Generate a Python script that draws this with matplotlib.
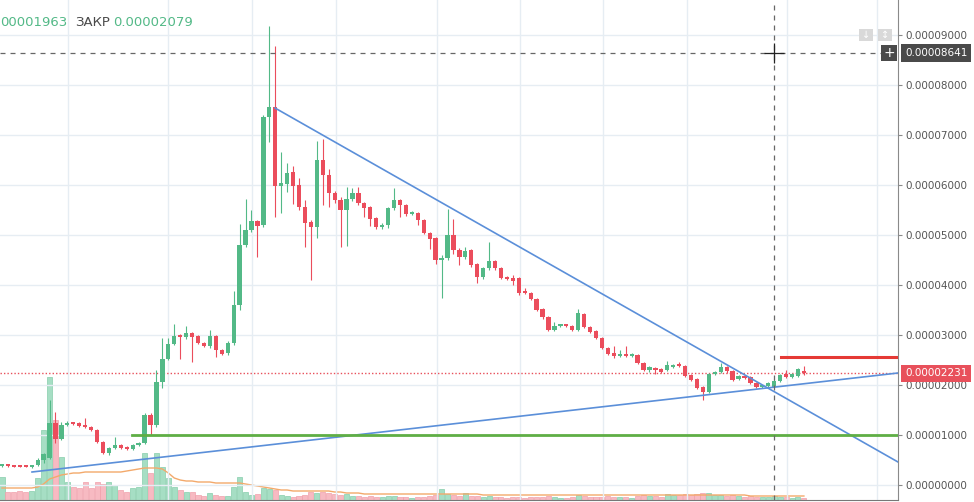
import numpy as np
import matplotlib
matplotlib.use("Agg")
import matplotlib.pyplot as plt
from matplotlib.patches import Rectangle

# prices in units of 1e-6 (0.00001 -> 10)
opens = [3.8, 4.0, 3.9, 3.8, 3.8, 3.7, 4.0, 5.0, 5.4, 12.4, 9.2, 12.0, 12.4, 12.4, 11.8, 11.6, 11.0, 8.6, 6.4, 7.4,
         8.0, 7.6, 7.2, 8.0, 8.4, 14.0, 12.0, 20.6, 25.2, 28.2, 30.0, 29.6, 30.4, 29.8, 28.4, 27.8, 29.8, 27.0, 26.4, 28.4,
         36.0, 48.0, 51.0, 52.8, 52.0, 73.6, 75.6, 59.8, 60.2, 62.6, 60.0, 55.6, 52.6, 51.6, 65.0, 62.0, 58.4, 57.0, 55.0, 57.2,
         58.4, 56.4, 55.6, 53.4, 51.6, 52.0, 55.4, 57.0, 56.0, 54.2, 54.4, 53.0, 50.4, 49.4, 45.0, 45.4, 50.0, 47.0, 45.6, 47.0,
         44.2, 41.6, 43.4, 44.8, 43.4, 41.4, 41.4, 41.4, 38.8, 38.4, 37.2, 35.2, 33.6, 31.0, 31.8, 32.0, 31.8, 31.0, 34.2, 31.6,
         30.8, 29.4, 27.4, 26.4, 25.8, 26.2, 25.8, 26.0, 24.4, 23.0, 23.4, 23.2, 23.0, 23.6, 24.0, 23.8, 22.0, 21.2, 19.6, 18.6,
         22.2, 22.6, 23.6, 22.8, 21.2, 21.8, 21.6, 20.4, 19.6, 19.8, 19.63, 20.8, 22.2, 21.6, 21.8, 22.9]
highs = [4.2, 4.1, 4.0, 3.9, 3.9, 4.0, 5.4, 6.4, 17.0, 14.6, 12.6, 12.8, 12.6, 12.6, 13.4, 11.8, 11.2, 8.8, 7.6, 9.6,
         8.2, 7.8, 8.2, 8.6, 14.4, 14.4, 23.0, 29.4, 29.4, 32.2, 30.2, 31.8, 30.6, 30.0, 28.6, 31.0, 30.0, 27.2, 28.8, 38.8,
         52.2, 57.2, 55.0, 53.0, 74.0, 91.8, 87.8, 66.6, 64.4, 63.8, 61.4, 57.0, 53.0, 68.8, 69.2, 63.2, 58.8, 57.6, 59.6, 59.4,
         59.6, 56.6, 55.8, 53.6, 52.4, 55.6, 59.4, 57.2, 56.2, 54.8, 54.6, 53.2, 50.6, 49.6, 46.0, 55.2, 53.2, 47.4, 47.6, 47.2,
         44.4, 43.6, 48.6, 45.0, 43.6, 41.8, 42.0, 41.6, 39.4, 38.6, 37.4, 35.4, 33.8, 32.6, 32.2, 32.2, 32.0, 35.2, 34.4, 31.8,
         31.0, 29.6, 27.6, 27.8, 27.0, 27.8, 26.4, 26.2, 24.6, 23.8, 23.6, 23.4, 24.8, 24.2, 24.6, 24.0, 22.2, 21.4, 19.8, 22.4,
         22.8, 24.4, 23.8, 23.0, 22.0, 22.0, 21.8, 20.6, 20.0, 20.6, 21.2, 22.2, 23.0, 22.4, 23.4, 23.8]
lows = [3.6, 3.7, 3.6, 3.6, 3.6, 3.5, 3.9, 4.5, 5.2, 8.4, 9.0, 11.8, 12.0, 11.6, 11.4, 10.8, 8.4, 6.2, 6.0, 7.2,
        7.2, 7.0, 7.0, 7.8, 8.2, 10.0, 11.6, 19.4, 25.0, 28.0, 25.2, 29.2, 24.6, 28.2, 27.6, 27.4, 25.6, 26.0, 26.0, 28.0,
        35.0, 47.6, 50.6, 45.6, 51.6, 68.6, 53.6, 54.4, 58.6, 56.2, 55.0, 47.6, 41.0, 49.4, 56.0, 55.6, 56.4, 47.6, 47.8, 56.8,
        56.0, 53.6, 51.8, 51.2, 51.2, 51.4, 55.0, 53.6, 53.8, 54.0, 52.0, 50.2, 47.2, 44.2, 37.4, 45.0, 46.2, 44.0, 45.2, 43.6,
        40.4, 41.2, 43.0, 43.0, 41.2, 41.0, 40.0, 38.0, 38.2, 37.0, 34.8, 33.2, 30.8, 30.8, 31.6, 31.6, 30.8, 30.8, 31.4, 30.4,
        29.2, 27.2, 26.0, 25.4, 25.6, 25.6, 25.6, 24.2, 22.8, 22.6, 22.2, 22.4, 22.8, 23.4, 23.6, 21.6, 20.8, 19.2, 17.0, 18.4,
        22.0, 22.4, 22.4, 20.8, 21.0, 21.2, 20.2, 19.4, 19.4, 19.6, 19.6, 20.6, 21.4, 21.4, 21.6, 22.1]
closes = [4.0, 3.8, 3.7, 3.7, 3.7, 3.9, 5.0, 6.2, 12.4, 9.2, 12.0, 12.4, 12.2, 11.8, 11.6, 11.0, 8.6, 6.4, 7.4, 8.0,
          7.4, 7.2, 8.0, 8.4, 14.0, 12.0, 20.6, 25.2, 28.2, 29.8, 29.6, 30.4, 29.6, 28.4, 27.8, 29.8, 27.0, 26.2, 28.4, 36.0,
          48.0, 51.0, 52.8, 51.8, 73.6, 75.6, 59.8, 60.4, 62.4, 59.8, 55.6, 52.4, 51.6, 65.0, 62.0, 58.4, 57.0, 55.0, 57.2, 58.4,
          56.4, 55.4, 53.2, 51.6, 51.8, 55.4, 57.0, 56.0, 54.2, 54.4, 53.0, 50.4, 49.2, 45.0, 45.4, 50.0, 47.0, 45.6, 46.8, 44.0,
          41.6, 43.4, 44.8, 43.4, 41.4, 41.2, 40.8, 38.4, 38.4, 37.2, 35.0, 33.6, 31.0, 31.8, 32.0, 31.8, 31.0, 34.4, 31.6, 30.6,
          29.4, 27.4, 26.2, 25.8, 26.2, 25.8, 26.2, 24.4, 23.0, 23.6, 23.0, 22.6, 24.0, 24.0, 23.8, 21.8, 21.0, 19.4, 18.6, 22.2,
          22.6, 23.6, 22.8, 21.0, 21.8, 21.4, 20.4, 19.6, 19.8, 20.4, 20.79, 22.0, 21.6, 22.2, 23.2, 22.31]

# volume (arbitrary units) and its moving average
volumes = [23, 8, 8, 9, 8, 9, 22, 70, 123, 80, 43, 18, 13, 12, 18, 12, 18, 16, 18, 15,
           10, 8, 12, 13, 47, 27, 47, 33, 22, 13, 10, 8, 8, 5, 4, 7, 5, 4, 4, 13,
           23, 8, 5, 6, 12, 11, 10, 5, 4, 3, 4, 5, 8, 7, 8, 7, 6, 5, 6, 4,
           4, 3, 4, 3, 3, 4, 4, 3, 3, 2, 3, 3, 4, 5, 11, 6, 5, 4, 7, 4,
           4, 3, 4, 3, 3, 2, 3, 3, 2, 3, 3, 3, 4, 3, 2, 2, 3, 5, 4, 3,
           3, 3, 4, 3, 3, 3, 2, 4, 5, 4, 4, 3, 6, 5, 5, 6, 5, 6, 7, 7,
           5, 5, 4, 5, 4, 3, 4, 3, 3, 3, 4, 3, 3, 2, 3, 2]
vol_ma = [12, 12, 12, 12, 12, 12, 13, 16, 21, 23, 25, 26, 27, 27, 28, 28, 28, 28, 28, 28,
          28, 29, 30, 31, 32, 32, 32, 31, 27, 22, 20, 19, 19, 18, 18, 18, 17, 17, 17, 17,
          17, 16, 15, 14, 13, 12, 11, 10, 10, 9, 9, 9, 9, 9, 9, 9, 8, 8, 7, 7,
          7, 6, 6, 6, 6, 6, 6, 6, 6, 6, 6, 6, 6, 6, 6, 6, 6, 6, 6, 6,
          6, 5, 5, 5, 5, 5, 5, 5, 5, 5, 5, 5, 5, 5, 5, 5, 5, 5, 5, 5,
          5, 5, 5, 5, 5, 5, 5, 5, 5, 5, 5, 5, 5, 5, 5, 5, 5, 5, 5, 5,
          5, 5, 5, 5, 5, 5, 4, 4, 4, 4, 4, 4, 4, 4, 4, 4]

price_ticks = [0, 10, 20, 30, 40, 50, 60, 70, 80, 90]
date_grid = [11.1, 27.9, 42.1, 56.2, 73.2, 87.2, 101.2, 115.3, 132.2, 147.3]

last_price = 22.31
cross_price = 86.41
cross_idx = 130
support = [(5.05, 2.6), (150.84, 22.4)]
resistance = [(45.96, 75.4), (150.84, 4.6)]
green_level = (21.9, 10.0)
red_level = (131.1, 25.6)

GREEN = "#53b987"
RED = "#eb4d5c"
BLUE = "#5b8fd9"

px = 1 / 100
fig = plt.figure(figsize=(974 * px, 502 * px), dpi=100)
pos = [0, 2 / 502, 898 / 974, 500 / 502]
ax_vol = fig.add_axes(pos)
ax = fig.add_axes(pos)
ax.patch.set_visible(False)

idx = np.arange(len(opens))
o = np.array(opens); c = np.array(closes)
up = c >= o
cols = np.where(up, GREEN, RED)
xlim = (-0.337, 150.84)

# volume
vcol = np.where(up, "#a6dec4", "#f7bac2")
ax_vol.bar(idx, volumes, width=0.85, color=vcol, edgecolor=np.where(up, "#86cdab", "#f0a0ab"), linewidth=0.5)
ax_vol.plot(idx, vol_ma, color="#f3a96b", lw=1.0)
ax_vol.set_xlim(*xlim)
ax_vol.set_ylim(0, max(volumes) * 500 / 123)
ax_vol.axis("off")

# candles
ax.vlines(idx, lows, highs, color=cols, lw=0.8, zorder=3)
body = np.maximum(np.abs(c - o), 0.35)
ax.bar(idx, body, bottom=np.minimum(o, c), width=0.72, color=cols, zorder=4)

ax.set_xlim(*xlim)
ax.set_ylim(-3, 97)

# trend lines and levels
ax.plot(*zip(*support), color=BLUE, lw=1.2, zorder=5)
ax.plot(*zip(*resistance), color=BLUE, lw=1.2, zorder=5)
ax.plot([green_level[0], xlim[1]], [green_level[1]] * 2, color="#5fae45", lw=2.0, zorder=5)
ax.plot([red_level[0], xlim[1]], [red_level[1]] * 2, color="#e53935", lw=2.2, zorder=5)
ax.axhline(last_price, color="#e8505b", lw=1.0, ls=(0, (1, 1.5)), zorder=2)

# crosshair
ax.axhline(cross_price, color="#666666", lw=0.9, ls=(0, (4, 4)), zorder=6)
ax.axvline(cross_idx, color="#666666", lw=0.9, ls=(0, (4, 4)), zorder=6)
ax.plot([cross_idx], [cross_price], marker="+", ms=14, mew=0.9, color="#222222", zorder=7)

# grid
ax.set_xticks(date_grid)
ax.set_yticks(price_ticks)
ax.grid(True, color="#e6edf3", lw=1.0)
ax.set_axisbelow(True)
ax.tick_params(axis="x", length=0, labelbottom=False)
ax.yaxis.tick_right()
ax.tick_params(axis="y", length=3, width=0.8, color="#8a8a8a", pad=2.5, labelsize=7.5, labelcolor="#555555")
ax.set_yticklabels([f"{v * 1e-6:.8f}" for v in price_ticks])
for s in ["top", "left"]:
    ax.spines[s].set_visible(False)
ax.spines["right"].set_color("#8a8a8a")
ax.spines["bottom"].set_color("#777777")

# price labels on the axis
ax.annotate(f"{cross_price * 1e-6:.8f}", xy=(1, cross_price), xycoords=("axes fraction", "data"),
            xytext=(5, 0), textcoords="offset points", va="center", ha="left", fontsize=7.5, color="white",
            bbox=dict(boxstyle="square,pad=0.35", fc="#4a4a4a", ec="none"), annotation_clip=False, zorder=10)
ax.annotate(f"{last_price * 1e-6:.8f}", xy=(1, last_price), xycoords=("axes fraction", "data"),
            xytext=(5, 0), textcoords="offset points", va="center", ha="left", fontsize=7.5, color="white",
            bbox=dict(boxstyle="square,pad=0.35", fc="#e8505b", ec="none"), annotation_clip=False, zorder=10)
fig.patches.append(Rectangle((881 / 974, 1 - 61 / 502), 16 / 974, 16 / 502, transform=fig.transFigure,
                             fc="#4a4a4a", ec="none", zorder=10))
fig.text(889 / 974, 1 - 53 / 502, "+", color="white", fontsize=10, ha="center", va="center", zorder=11)
for xl, sym in [(859, "↓"), (878, "↕")]:
    fig.patches.append(Rectangle((xl / 974, 1 - 41 / 502), 14 / 974, 12 / 502, transform=fig.transFigure,
                                 fc="#d9d9d9", ec="none"))
    fig.text((xl + 7) / 974, 1 - 35 / 502, sym, color="white", fontsize=7, ha="center", va="center")

# legend text at top (left part is cut off in the original view)
fig.text(0, 1 - 22 / 502, "00001963", color=GREEN, fontsize=9.5, ha="left", va="center")
fig.text(75 / 974, 1 - 22 / 502, "ЗАКР", color="#4a4a4a", fontsize=9.5, ha="left", va="center")
fig.text(113 / 974, 1 - 22 / 502, "0.00002079", color=GREEN, fontsize=9.5, ha="left", va="center")

fig.savefig("out.png", dpi=100)
